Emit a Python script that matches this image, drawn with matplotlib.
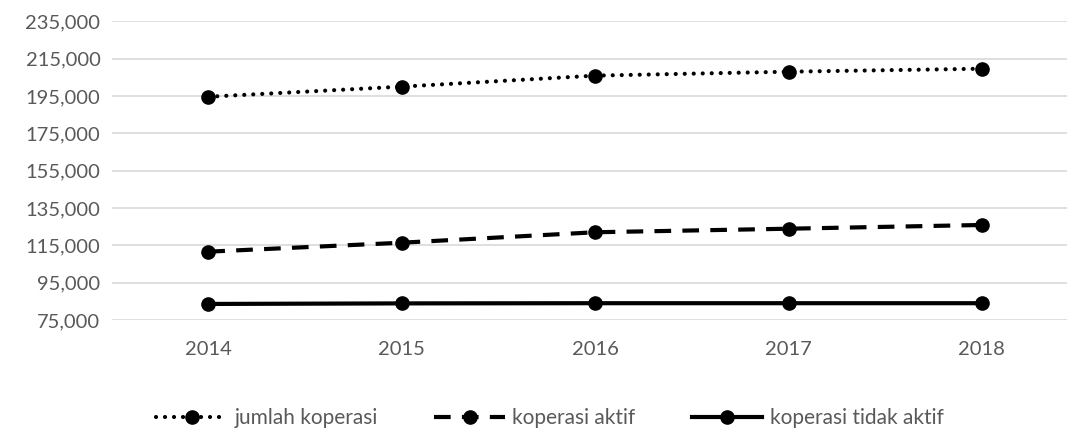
import matplotlib.pyplot as plt
from matplotlib.ticker import FuncFormatter

years = ["2014", "2015", "2016", "2017", "2018"]
jumlah_koperasi = [194600, 200000, 205900, 208000, 209600]
koperasi_aktif = [111600, 116400, 122000, 123900, 125900]
koperasi_tidak_aktif = [83600, 83900, 84000, 84000, 84000]

yticks = list(range(75000, 235001, 20000))

plt.rcParams['font.family'] = ['Lato', 'DejaVu Sans']
grey = '#595959'

fig = plt.figure(figsize=(10.67, 4.36), dpi=100)
ax = fig.add_axes([111.6 / 1067, 1 - 320 / 436, 967 / 1067, 298.7 / 436])

x = range(len(years))
lw = 3
ax.plot(x, jumlah_koperasi, color='black', lw=lw, linestyle=(0, (0.01, 2.15)),
        dash_capstyle='round', marker='o', markersize=9.5, label='jumlah koperasi')
ax.plot(x, koperasi_aktif, color='black', lw=lw, linestyle=(0, (4.0, 2.7)),
        marker='o', markersize=9.5, label='koperasi aktif')
ax.plot(x, koperasi_tidak_aktif, color='black', lw=lw, linestyle='-',
        marker='o', markersize=9.5, label='koperasi tidak aktif')

ax.set_xlim(-0.5, len(years) - 0.5)
ax.set_ylim(75000, 235000)
ax.set_xticks(list(x))
ax.set_xticklabels(years)
ax.set_yticks(yticks)
ax.yaxis.set_major_formatter(FuncFormatter(lambda v, p: f"{int(v):,}"))
ax.grid(axis='y', color='#d9d9d9', lw=1.2)
ax.set_axisbelow(True)
for s in ax.spines.values():
    s.set_visible(False)
ax.tick_params(axis='both', length=0, labelsize=14.5, colors=grey)
ax.tick_params(axis='x', pad=15)
ax.tick_params(axis='y', pad=8)

leg = fig.legend(loc='center', bbox_to_anchor=(550 / 1067, 1 - 418 / 436), ncol=3,
                 frameon=False, fontsize=15, handlelength=3.4, handletextpad=0.35,
                 columnspacing=2.7, labelcolor=grey)

fig.savefig('out.png', dpi=100)
